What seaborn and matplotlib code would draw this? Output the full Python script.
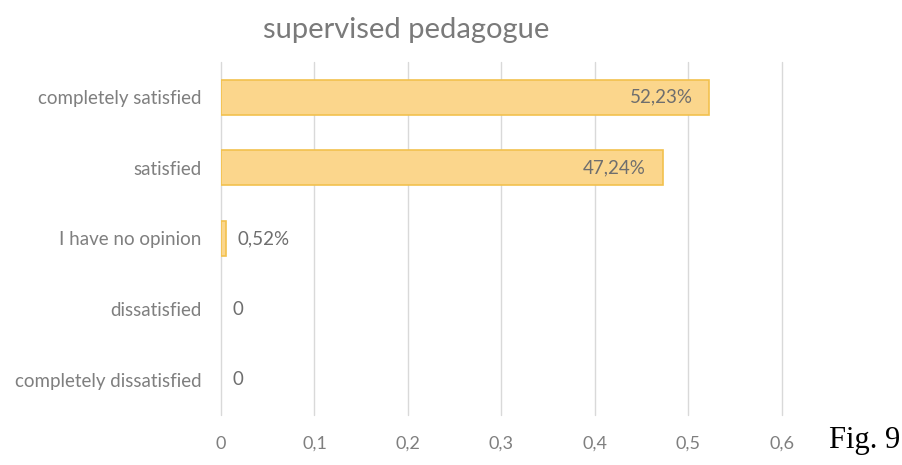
import pandas as pd
import seaborn as sns
import matplotlib.pyplot as plt

categorias = ['completely satisfied', 'satisfied', 'I have no opinion',
              'dissatisfied', 'completely dissatisfied']
valores = [0.5223, 0.4724, 0.0052, 0.0, 0.0]
etiquetas = ['52,23%', '47,24%', '0,52%', '0', '0']
ticks_x = [0, 0.1, 0.2, 0.3, 0.4, 0.5, 0.6]
ticks_txt = ['0', '0,1', '0,2', '0,3', '0,4', '0,5', '0,6']

datos = pd.DataFrame({'cat': categorias, 'val': valores})

sns.set_style('white')
plt.rcParams['font.family'] = ['Lato', 'DejaVu Sans']

fig = plt.figure(figsize=(9.03, 4.65), dpi=100)
ax = fig.add_axes([0.2447, 0.1075, 0.6213, 0.7595])

sns.barplot(data=datos, x='val', y='cat', ax=ax, color='#FBD68C',
            edgecolor='#F2C14E', linewidth=1.2, width=0.5, saturation=1)
# sin borde en las barras de valor cero
for p, v in zip(ax.patches, valores):
    if v == 0:
        p.set_linewidth(0)

gris = '#7F7F7F'
ax.set_xlim(0, 0.6)
ax.set_ylim(4.5, -0.5)
ax.set_xticks(ticks_x)
ax.set_xticklabels(ticks_txt)
ax.tick_params(axis='y', length=0, colors=gris, labelsize=13.5, pad=14)
ax.tick_params(axis='x', length=0, colors=gris, labelsize=13, pad=15)
ax.set_xlabel('')
ax.set_ylabel('')
for x in ticks_x:
    ax.axvline(x, color='#D9D9D9', lw=1, zorder=0, clip_on=False)
for s in ax.spines.values():
    s.set_visible(False)

# Etiquetas de datos
for i, (v, t) in enumerate(zip(valores, etiquetas)):
    if v > 0.1:
        ax.text(v - 0.018, i, t, ha='right', va='center', color='#6E6E6E', fontsize=13.5)
    else:
        ax.text(v + 0.012, i, t, ha='left', va='center', color='#6E6E6E', fontsize=13.5)

fig.text(0.45, 0.935, 'supervised pedagogue', ha='center', va='center',
         color='#7A7A7A', fontsize=21)
fig.text(0.957, 0.053, 'Fig. 9', ha='center', va='center', color='black',
         fontsize=22, family='Liberation Serif')

plt.savefig('out.png', dpi=100)
plt.close()
